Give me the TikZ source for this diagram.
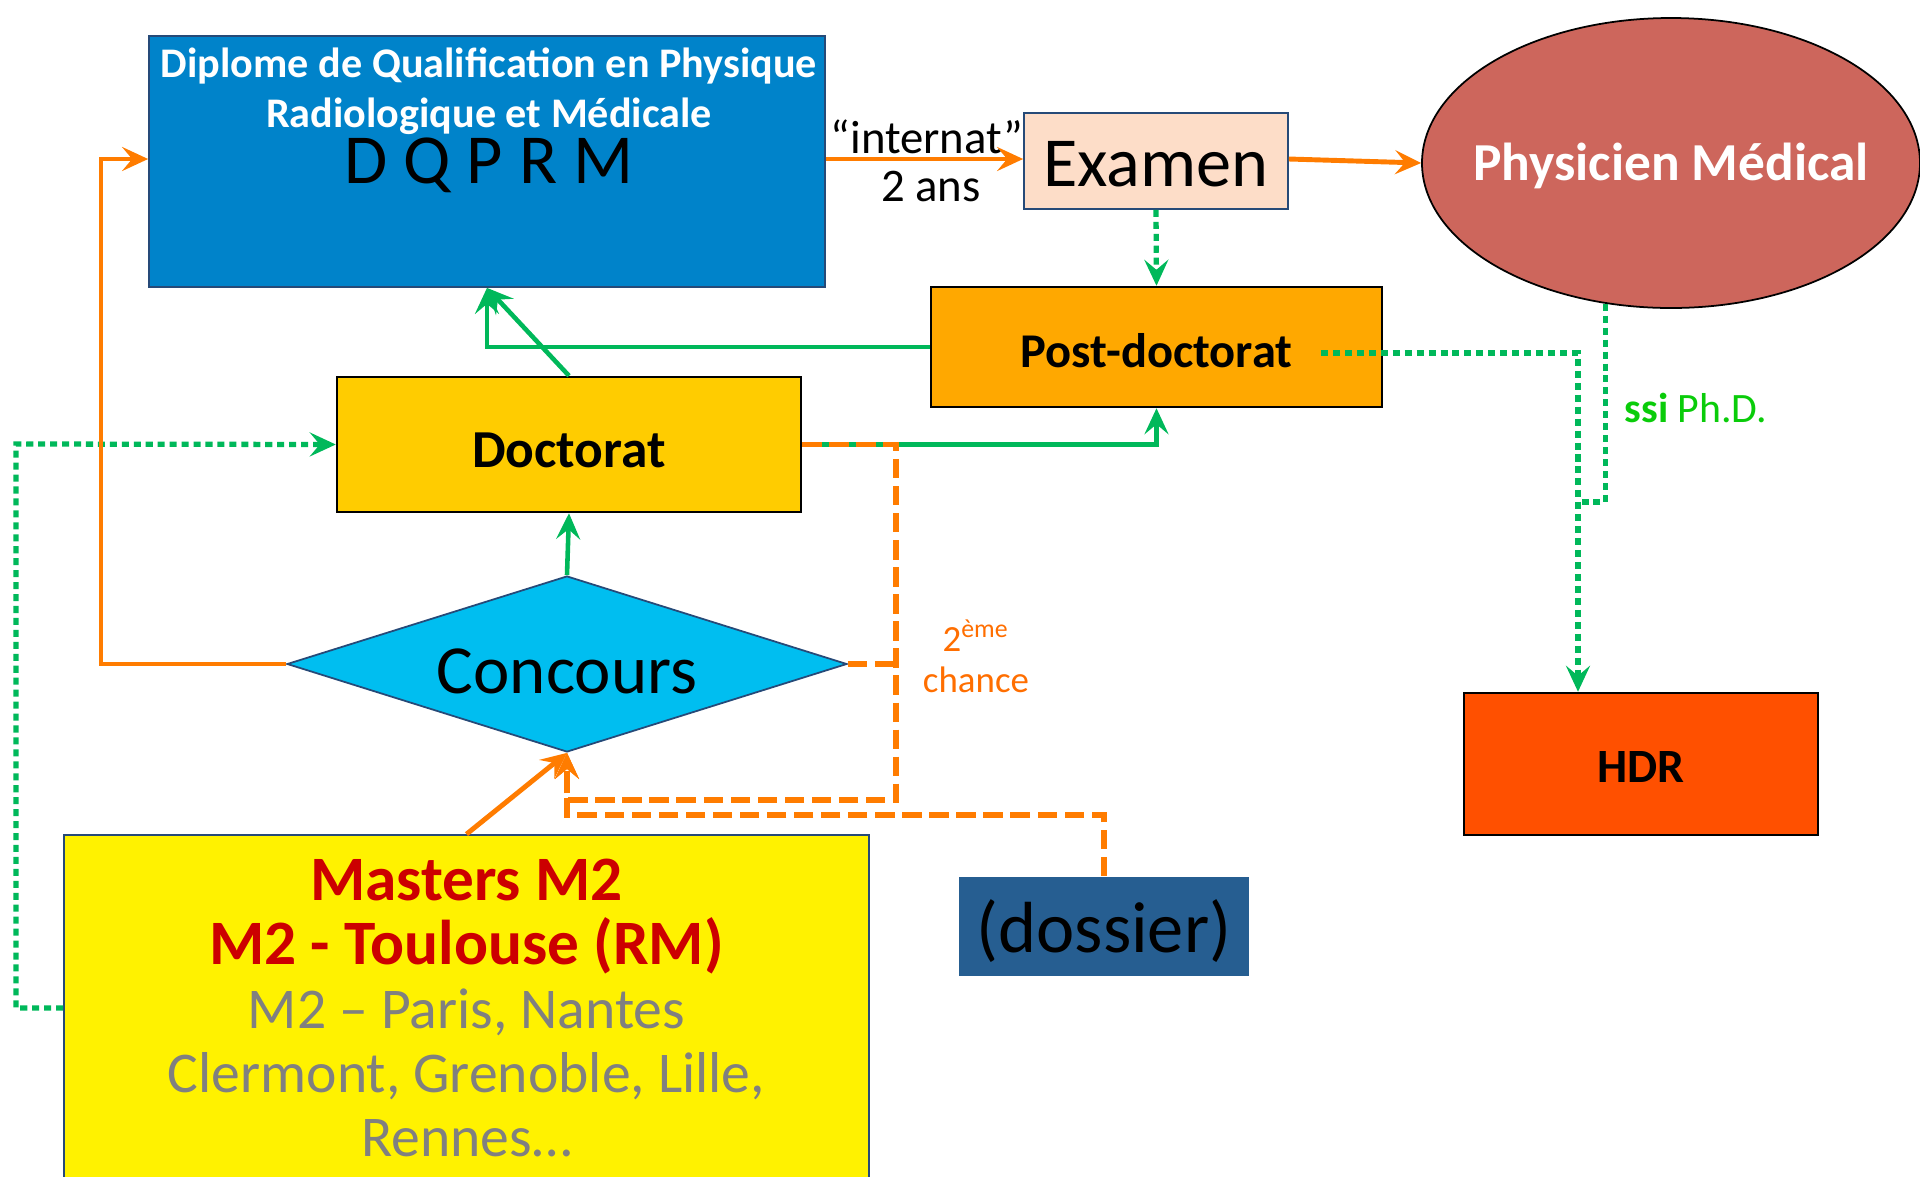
\documentclass[tikz,border=0pt]{standalone}
\usepackage{fontspec}
\setmainfont{Carlito}
\usetikzlibrary{arrows.meta,shapes.geometric,positioning}

\definecolor{dqblue}{RGB}{0,131,202}
\definecolor{navyline}{RGB}{38,74,120}
\definecolor{peach}{RGB}{253,221,200}
\definecolor{rosebrown}{RGB}{205,102,92}
\definecolor{postorange}{RGB}{255,168,0}
\definecolor{docyellow}{RGB}{255,204,0}
\definecolor{concblue}{RGB}{0,190,240}
\definecolor{dossblue}{RGB}{38,94,145}
\definecolor{hdrred}{RGB}{255,80,0}
\definecolor{flowgreen}{RGB}{0,184,90}
\definecolor{floworange}{RGB}{255,124,0}
\definecolor{chanceorange}{RGB}{255,110,0}
\definecolor{ssigreen}{RGB}{10,204,10}
\definecolor{mastersred}{RGB}{204,0,0}
\definecolor{citygrey}{RGB}{128,128,128}

\tikzset{
  box/.style={rectangle, inner sep=0pt, line width=0.5pt},
  headarrow/.style={-{Stealth[length=2.6mm,width=2.4mm,inset=1mm]}},
  orangeline/.style={draw=floworange, line width=1.4pt},
  orangedash/.style={draw=floworange, line width=1.5pt, dash pattern=on 5.5pt off 2.2pt},
  greenline/.style={draw=flowgreen, line width=1.3pt},
  greendot/.style={draw=flowgreen, line width=1.5pt, dash pattern=on 2pt off 1.4pt},
}

\begin{document}
\begin{tikzpicture}[x=0.1mm, y=-0.1mm]
\useasboundingbox (0,0) rectangle (1920,1176);

% boxes
\node[box, fill=dqblue, draw=navyline, minimum width=67.6mm, minimum height=25.1mm] (dqprm) at (487,161.5) {};
\node[inner sep=0pt, text=white, align=center, font=\bfseries\fontsize{12}{14.2}\selectfont] (dqtitle) at (489,120)
  {Diplome de Qualification en Physique\\
   Radiologique et Médicale\\
   {\color{black}\mdseries\fontsize{20}{24}\selectfont D Q P R M}};
\node[box, fill=peach, draw=navyline, minimum width=26.4mm, minimum height=9.6mm, text height=14.5pt, font=\fontsize{20}{24}\selectfont] (examen) at (1156,161) {Examen};
\node[ellipse, draw=black, line width=0.5pt, fill=rosebrown, minimum width=49.8mm, minimum height=29mm, inner ysep=0pt, inner xsep=-14mm, text height=12.5pt, text=white, font=\bfseries\fontsize{15.2}{18}\selectfont] (physicien) at (1671,163) {Physicien Médical};
\node[box, fill=postorange, draw=black, line width=0.7pt, minimum width=45.1mm, minimum height=12mm, text height=11.5pt, font=\bfseries\fontsize{13.8}{16}\selectfont] (postdoc) at (1156.5,347) {Post-doctorat};
\node[box, fill=docyellow, draw=black, line width=0.7pt, minimum width=46.4mm, minimum height=13.5mm, text height=13pt, font=\bfseries\fontsize{15.2}{17}\selectfont] (doctorat) at (569,444.5) {Doctorat};
\node[diamond, draw=navyline, line width=0.5pt, fill=concblue, aspect=3.18, inner sep=0pt, minimum width=56mm, minimum height=17.6mm, text height=17pt, font=\fontsize{19.6}{23}\selectfont] (concours) at (567,664) {Concours};
\node[box, fill=yellow, draw=navyline, minimum width=80.5mm, minimum height=34.6mm, align=center, font=\fontsize{16.4}{18.2}\selectfont] (masters) at (466.5,1008)
  {\textcolor{mastersred}{\bfseries\fontsize{18}{18.2}\selectfont Masters M2}\\
   \textcolor{mastersred}{\bfseries\fontsize{18}{18.2}\selectfont M2 - Toulouse (RM)}\\
   \textcolor{citygrey}{M2 – Paris, Nantes}\\
   \textcolor{citygrey}{Clermont, Grenoble, Lille,}\\
   \textcolor{citygrey}{Rennes…}};
\node[box, fill=dossblue, minimum width=29mm, minimum height=9.9mm, text depth=0.5pt, font=\fontsize{20.6}{24}\selectfont] (dossier) at (1104,926.5) {(dossier)};
\node[box, fill=hdrred, draw=black, line width=0.7pt, minimum width=35.4mm, minimum height=14.2mm, text height=10.7pt, font=\bfseries\fontsize{13.6}{16}\selectfont] (hdr) at (1641,764) {HDR};

% labels
\node[font=\fontsize{13.3}{16}\selectfont] (internat) at (927,137) {“internat”};
\node[font=\fontsize{13.3}{16}\selectfont] (deuxans) at (931,186) {2 ans};
\node[text=chanceorange, align=center, font=\fontsize{10.5}{11.6}\selectfont] (chance) at (976,656) {2\textsuperscript{ème}\\chance};
\node[text=ssigreen, font=\fontsize{11.9}{14}\selectfont] (ssi) at (1696,408) {\textbf{ssi} Ph.D.};

% bends
\coordinate (leftturn) at (101,159);
\coordinate (farleft) at (16,444);
\coordinate (retour) at (896,800);
\coordinate (dossiercoin) at (1104,815);
\coordinate (pdstart) at (1321,353);
\coordinate (hdrturn) at (1578,353);
\coordinate (ssijoin) at (1578,502);

% green connectors
\draw[greenline, headarrow] (postdoc.west) -| (dqprm.south);
\draw[greenline, headarrow] (doctorat.north) -- (dqprm.south);
\draw[greenline, headarrow] (doctorat.east) -| (postdoc.south);
\draw[greenline, headarrow] (concours.north) -- (doctorat.south);
\draw[greendot, headarrow] (examen.south) -- (postdoc.north);
\draw[greendot, headarrow] (masters.west) -| (farleft) -- (doctorat.west);
\draw[greendot, headarrow] (pdstart) -- (hdrturn) -- (hdrturn |- hdr.north);
\draw[greendot] (physicien.-115) |- (ssijoin);

% orange connectors
\draw[orangeline, headarrow] (dqprm.east |- leftturn) -- (examen.west |- leftturn);
\draw[orangeline, headarrow] (examen.east |- leftturn) -- (physicien.west);
\draw[orangeline, headarrow] (concours.west) -| (leftturn) -- (dqprm.west |- leftturn);
\draw[orangeline, headarrow] (masters.north) -- (concours.south);
\draw[orangedash, headarrow] (doctorat.east) -| (retour) -| (concours.south);
\draw[orangedash] (concours.east) -- (concours.east -| retour);
\draw[orangedash, headarrow] (dossier.north) -- (dossiercoin) -| (concours.south);
\end{tikzpicture}
\end{document}
